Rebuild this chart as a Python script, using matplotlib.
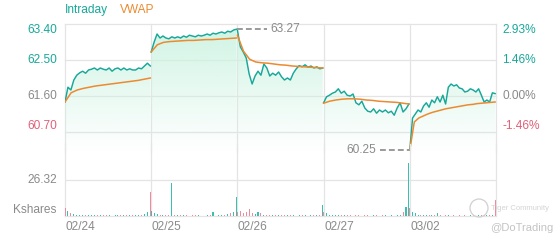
import numpy as np
import matplotlib
matplotlib.use('Agg')
import matplotlib.pyplot as plt
from matplotlib.transforms import IdentityTransform

plt.rcParams['font.family'] = ['Liberation Sans', 'DejaVu Sans']

# five trading days, intraday price samples per day
days = ['02/24', '02/25', '02/26', '02/27', '03/02']
prev_close = 61.60

price_d1 = [61.45, 61.82, 61.75, 62.0, 62.12, 62.18, 62.22, 62.17, 62.25, 62.27, 62.3, 62.25, 62.3, 62.27, 62.25,
            62.3, 62.22, 62.28, 62.3, 62.25, 62.3, 62.25, 62.28, 62.25, 62.25, 62.3, 62.28, 62.35, 62.42, 62.35]
price_d2 = [62.70, 62.95, 63.15, 63.05, 63.1, 63.05, 63.03, 63.08, 63.05, 63.08, 63.05, 63.1, 63.07, 63.12, 63.1,
            63.08, 63.12, 63.1, 63.12, 63.15, 63.12, 63.17, 63.15, 63.18, 63.2, 63.17, 63.22, 63.2, 63.25, 63.27]
price_d3 = [63.25, 62.83, 62.7, 62.55, 62.15, 61.9, 62.1, 62.22, 62.12, 62.4, 62.3, 62.1, 62.17, 62.12, 62.2,
            62.08, 62.0, 62.05, 62.0, 62.17, 62.28, 62.36, 62.33, 62.38, 62.32, 62.35, 62.3, 62.33, 62.28, 62.3]
price_d4 = [61.43, 61.58, 61.62, 61.67, 61.7, 61.78, 61.67, 61.72, 61.62, 61.6, 61.65, 61.43, 61.38, 61.47, 61.3,
            61.22, 61.2, 61.28, 61.17, 61.25, 61.2, 61.25, 61.18, 61.22, 61.12, 61.3, 61.43, 61.2, 61.28, 61.4]
price_d5 = [60.25, 61.05, 61.15, 61.25, 61.2, 61.35, 61.43, 61.32, 61.5, 61.43, 61.58, 61.45, 61.62, 61.4, 61.82,
            61.9, 61.85, 61.88, 61.8, 61.78, 61.7, 61.72, 61.78, 61.75, 61.7, 61.78, 61.62, 61.45, 61.5, 61.45,
            61.68, 61.66]

vwap_d1 = [61.45, 61.68, 61.75, 61.79, 61.82, 61.85, 61.87, 61.89, 61.91, 61.93, 61.95, 61.97, 61.99, 62.02, 62.05]
vwap_d2 = [62.70, 62.88, 62.94, 62.96, 62.97, 62.98, 62.99, 62.99, 63.0, 63.01, 63.01, 63.02, 63.03, 63.04, 63.05]
vwap_d3 = [63.12, 62.72, 62.52, 62.45, 62.43, 62.42, 62.4, 62.38, 62.37, 62.35, 62.34, 62.33, 62.32, 62.31, 62.3]
vwap_d4 = [61.42, 61.47, 61.5, 61.52, 61.53, 61.53, 61.52, 61.5, 61.49, 61.47, 61.46, 61.45, 61.44, 61.42, 61.4]
vwap_d5 = [60.25, 60.95, 61.05, 61.1, 61.15, 61.19, 61.22, 61.25, 61.28, 61.3, 61.32, 61.34, 61.36, 61.38, 61.39,
           61.41, 61.42, 61.43, 61.44, 61.45]

# volume in thousand shares, one bar per price sample
vol_d1 = [5.8, 4.0, 2.0, 1.5, 1.0, 0.8, 0.5, 0.6, 0.5, 0.4, 0.8, 0.5, 0.4, 0.6, 0.5,
          0.4, 0.3, 0.5, 0.4, 0.6, 0.5, 0.4, 0.5, 0.8, 0.6, 0.5, 0.6, 1.2, 3.0, 17.5]
vol_d2 = [4.0, 2.0, 1.5, 1.0, 0.8, 0.6, 0.8, 24.0, 1.0, 0.6, 0.5, 0.4, 0.5, 0.3, 0.4,
          0.5, 0.4, 0.3, 0.3, 0.4, 0.5, 3.0, 0.3, 0.4, 0.5, 0.6, 1.5, 2.0, 3.0, 14.0]
vol_d3 = [3.0, 4.0, 2.0, 3.0, 5.0, 2.0, 1.5, 3.0, 2.0, 1.0, 0.8, 0.6, 1.0, 0.5, 0.5,
          0.8, 0.4, 0.5, 0.4, 0.5, 0.3, 0.4, 0.4, 0.5, 0.3, 0.4, 0.5, 0.6, 1.0, 8.0]
vol_d4 = [3.0, 2.0, 1.0, 0.8, 0.6, 0.5, 0.5, 0.4, 0.5, 0.4, 0.3, 0.5, 0.4, 0.3, 0.4,
          0.5, 0.3, 0.4, 0.4, 0.3, 0.5, 0.4, 0.3, 0.4, 0.3, 0.4, 0.6, 3.0, 6.6, 38.7]
vol_d5 = [6.0, 3.0, 2.0, 1.0, 0.8, 0.5, 0.6, 0.4, 0.5, 0.4, 2.5, 0.4, 0.3, 0.4, 0.5,
          0.3, 0.4, 0.3, 0.4, 0.3, 0.4, 0.3, 0.5, 0.4, 0.3, 0.4, 0.5, 0.4, 0.6, 0.5, 1.0, 11.7]

price_ticks = [63.40, 62.50, 61.60, 60.70]
pct_labels = ['2.93%', '1.46%', '0.00%', '-1.46%']
vol_tick = 26.32
high_price = 63.27
low_price = 60.25

prices = [price_d1, price_d2, price_d3, price_d4, price_d5]
vwaps = [vwap_d1, vwap_d2, vwap_d3, vwap_d4, vwap_d5]
vols = [vol_d1, vol_d2, vol_d3, vol_d4, vol_d5]

TEAL = '#17a89a'
ORANGE = '#ec8a30'
RED = '#e0607a'
GREY = '#8a8a8a'
GRID = '#e4e4e4'
UP = '#3bbfb0'
DOWN = '#f08a9c'

fig = plt.figure(figsize=(5.6, 2.4), dpi=100)
W, H = 560, 240
x0, x1 = 65, 496
ax = fig.add_axes([x0 / W, 1 - 152 / H, (x1 - x0) / W, 128 / H])
axv = fig.add_axes([x0 / W, 1 - 216 / H, (x1 - x0) / W, 72 / H])
axv.set_facecolor('none')

ylo, yhi = 60.2, 63.4
grad = np.zeros((100, 1, 4))
grad[:, 0, :3] = matplotlib.colors.to_rgb('#cdf3e2')
grad[:, 0, 3] = np.linspace(0.0, 0.95, 100)

last = prev_close
for d in range(5):
    p = prices[d]
    xs = np.linspace(d, d + 0.99, len(p))
    poly = ax.fill_between(xs, p, ylo, color='none', lw=0)
    im = ax.imshow(grad, extent=[d, d + 1, ylo, yhi], aspect='auto', origin='lower', zorder=1)
    im.set_clip_path(poly.get_paths()[0], transform=ax.transData)
    ax.plot(xs, p, color=TEAL, lw=1.05, zorder=3)
    v = vwaps[d]
    ax.plot(np.linspace(d, d + 0.99, len(v)), v, color=ORANGE, lw=1.1, zorder=4)
    # volume bars coloured by tick direction
    prev = [last] + p[:-1]
    cols = [UP if a >= b else DOWN for a, b in zip(p, prev)]
    axv.bar(xs, vols[d], width=0.012, color=cols, lw=0, zorder=2)
    last = p[-1]

ax.set_xlim(0, 5)
ax.set_ylim(ylo, yhi)
axv.set_xlim(0, 5)
axv.set_ylim(0, vol_tick * 2)

for a in (ax, axv):
    for s in a.spines.values():
        s.set_visible(False)
    a.set_xticks([])
    a.set_yticks([])
    for d in range(6):
        a.axvline(d, color=GRID, lw=0.9, zorder=0, clip_on=False)

for t in price_ticks:
    ax.axhline(t, color=GRID, lw=0.9, zorder=0, clip_on=False)
axv.axhline(vol_tick, color=GRID, lw=0.9, zorder=0)
axv.axhline(0, color=GRID, lw=0.9, zorder=0, clip_on=False)

fs = 8.6
ytr = ax.get_yaxis_transform()
for i, (t, lab) in enumerate(zip(price_ticks, pct_labels)):
    c = TEAL if t > prev_close + 1e-9 else (RED if t < prev_close - 1e-9 else GREY)
    va = 'top' if i == 0 else ('bottom' if i == len(price_ticks) - 1 else 'center')
    ax.text(-0.019, t, f'{t:.2f}', transform=ytr, ha='right', va=va, color=c, fontsize=fs)
    ax.text(1.014, t, lab, transform=ytr, ha='left', va=va, color=c, fontsize=fs)

vtr = axv.get_yaxis_transform()
axv.text(-0.019, vol_tick, f'{vol_tick:.2f}', transform=vtr, ha='right', va='center', color=GREY, fontsize=fs)
axv.text(-0.019, 0, 'Kshares', transform=vtr, ha='right', va='bottom', color=GREY, fontsize=fs)

for d, lab in enumerate(days):
    axv.text(d + 0.005, -0.07, lab, transform=axv.get_xaxis_transform(), ha='left', va='top',
             color=GREY, fontsize=fs)

# legend
fig.text(x0 / W, 1 - 10 / H, 'Intraday', color=TEAL, fontsize=fs, va='center', ha='left')
fig.text(120 / W, 1 - 10 / H, 'VWAP', color=ORANGE, fontsize=fs, va='center', ha='left')

# high / low markers
xh = 1 + np.argmax(price_d2) / (len(price_d2) - 1) * 0.99
ax.plot([xh, xh + 0.35], [high_price, high_price], color='#9a9a9a', lw=1.4, ls=(0, (3, 1.6)),
        zorder=5, clip_on=False)
ax.text(xh + 0.39, high_price, f'{high_price:.2f}', color=GREY, fontsize=fs, va='center', ha='left')
xl = 4
ax.plot([xl - 0.35, xl], [low_price, low_price], color='#9a9a9a', lw=1.4, ls=(0, (3, 1.6)),
        zorder=5, clip_on=False)
ax.text(xl - 0.39, low_price, f'{low_price:.2f}', color=GREY, fontsize=fs, va='center', ha='right')

# watermark
fig.patches.append(matplotlib.patches.Circle((479, 32), 9, transform=IdentityTransform(),
                                             fill=False, ec='#d0d0d0', lw=0.9))
fig.text(491 / W, 1 - 208 / H, 'Tiger Community', color='#d4d4d4', fontsize=5.5, va='center', ha='left')
fig.text(490 / W, 1 - 228 / H, '@DoTrading', color='#c4c4c4', fontsize=8, va='center', ha='left')

fig.savefig('out.png', dpi=100)
